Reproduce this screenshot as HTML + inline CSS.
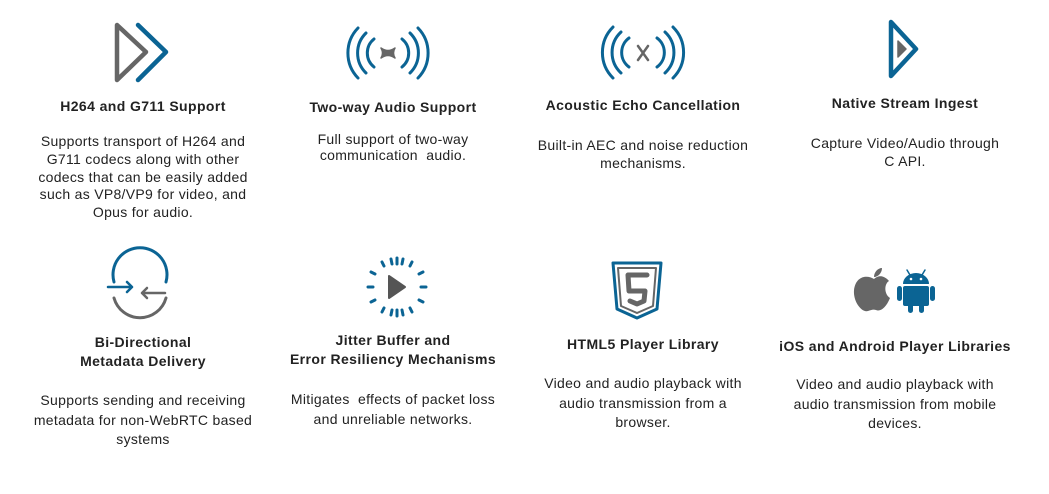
<!DOCTYPE html>
<html><head><meta charset="utf-8"><style>
body{margin:0;width:1049px;height:494px;background:#fff;position:relative;overflow:hidden;font-family:"Liberation Sans",sans-serif;color:#222}
.t{position:absolute;width:300px;text-align:center;font-weight:bold;font-size:14px;letter-spacing:0.4px;line-height:19px}
.b{position:absolute;width:300px;text-align:center;font-size:14px;letter-spacing:0.3px}
svg{position:absolute;left:0;top:0}
</style></head><body>
<svg width="1049" height="494" fill="none" stroke-linecap="round" stroke-linejoin="round">
<path d="M117 25 L117 80 L146 52 Z" stroke="#666" stroke-width="4.5"/>
<path d="M138 25 L166 52 L138 80" stroke="#0b6494" stroke-width="4.5"/>
<g stroke="#0b6494" stroke-width="3">
<path d="M358 28 A36 36 0 0 0 358 78"/><path d="M366 33 A28 28 0 0 0 366 73"/><path d="M374 39 A18 18 0 0 0 374 67"/>
<path d="M418 28 A36 36 0 0 1 418 78"/><path d="M410 33 A28 28 0 0 1 410 73"/><path d="M402 39 A18 18 0 0 1 402 67"/>
<path d="M613 27 A36 36 0 0 0 613 78"/><path d="M621 32 A28 28 0 0 0 621 73"/><path d="M629 38 A18 18 0 0 0 629 67"/>
<path d="M673 27 A36 36 0 0 1 673 78"/><path d="M665 32 A28 28 0 0 1 665 73"/><path d="M657 38 A18 18 0 0 1 657 67"/>
</g>
<path d="M381 48 Q388 53 395 48 Q392 53 395 58 Q388 53 381 58 Q384 53 381 48Z" fill="#666" stroke="#666" stroke-width="1.5"/>
<path d="M638 46 L648 60 M648 46 L638 60" stroke="#666" stroke-width="2.5"/>
<path d="M891 22 L891 76 L916 49 Z" stroke="#0b6494" stroke-width="4.5"/>
<path d="M898 41 L898 57 L906 49Z" fill="#666" stroke="#666" stroke-width="1.5"/>
<path d="M114 282 A27 27 0 1 1 166 282" stroke="#0b6494" stroke-width="3"/>
<path d="M114 298 A27 27 0 0 0 166 298" stroke="#666" stroke-width="3"/>
<path d="M108 287 L132 287 M127 282 L132 287 L127 292" stroke="#0b6494" stroke-width="2.5"/>
<path d="M142 293 L165 293 M147 288 L142 293 L147 298" stroke="#666" stroke-width="2.5"/>
<g stroke="#0b6494" stroke-width="3">
<path d="M397 258 L397 264 M397 310 L397 316 M368 287 L373 287 M421 287 L426 287"/>
<path d="M382 262 L384 266 M412 262 L410 266 M382 312 L384 308 M412 312 L410 308"/>
<path d="M371 272 L375 274 M423 272 L419 274 M371 302 L375 300 M423 302 L419 300"/>
<path d="M391 259 L392 264 M403 259 L402 264 M391 315 L392 310 M403 315 L402 310"/>
</g>
<path d="M389 276 L389 298 L405 287Z" fill="#555" stroke="#555" stroke-width="2"/>
<path d="M613 263 L661 263 L657 309 L637 318 L617 309 Z" stroke="#0b6494" stroke-width="3"/>
<path d="M618 268 L656 268 L653 306 L637 313 L621 306Z" stroke="#666" stroke-width="2"/>
<path d="M647 275 L628 275 L629 291 L645 291 L644 301 L637 304 L630 301" stroke="#666" stroke-width="5"/>
<path d="M874 279 C868 275 856 275 854 290 C853 302 862 313 868 311 C871 310 873 309 876 310 C880 312 886 308 890 298 C884 294 884 284 889 281 C883 274 877 276 874 279Z" fill="#666"/>
<path d="M874 277 C874 272 878 268 882 268 C882 273 878 277 874 277Z" fill="#666"/>
<g fill="#0b6494">
<path d="M903 284 A13 11 0 0 1 929 284 Z"/>
<rect x="903" y="286" width="26" height="20" rx="2"/>
<rect x="897" y="286" width="5" height="15" rx="2.5"/>
<rect x="930" y="286" width="5" height="15" rx="2.5"/>
<rect x="908" y="300" width="5" height="13" rx="2.5"/>
<rect x="919" y="300" width="5" height="13" rx="2.5"/>
</g>
<path d="M907 270 L910 275 M925 270 L922 275" stroke="#0b6494" stroke-width="1.5"/>
<circle cx="911" cy="279" r="1.3" fill="#fff"/><circle cx="921" cy="279" r="1.3" fill="#fff"/>
</svg>

<div class="t" style="left:-7px;top:97px">H264 and G711 Support</div>
<div class="b" style="left:-7px;top:133px;line-height:17.8px">Supports transport of H264 and<br>G711 codecs along with other<br>codecs that can be easily added<br>such as VP8/VP9 for video, and<br>Opus for audio.</div>
<div class="t" style="left:243px;top:98px">Two-way Audio Support</div>
<div class="b" style="left:243px;top:131px;line-height:16px">Full support of two-way<br>communication&nbsp; audio.</div>
<div class="t" style="left:493px;top:96px">Acoustic Echo Cancellation</div>
<div class="b" style="left:493px;top:136px;line-height:18px">Built-in AEC and noise reduction<br>mechanisms.</div>
<div class="t" style="left:755px;top:94px">Native Stream Ingest</div>
<div class="b" style="left:755px;top:134px;line-height:18px">Capture Video/Audio through<br>C API.</div>

<div class="t" style="left:-7px;top:333px">Bi-Directional<br>Metadata Delivery</div>
<div class="b" style="left:-7px;top:391px;line-height:19.5px">Supports sending and receiving<br>metadata for non-WebRTC based<br>systems</div>
<div class="t" style="left:243px;top:331px">Jitter Buffer and<br>Error Resiliency Mechanisms</div>
<div class="b" style="left:243px;top:389px;line-height:20px">Mitigates&nbsp; effects of packet loss<br>and unreliable networks.</div>
<div class="t" style="left:493px;top:335px">HTML5 Player Library</div>
<div class="b" style="left:493px;top:374px;line-height:19.5px">Video and audio playback with<br>audio transmission from a<br>browser.</div>
<div class="t" style="left:745px;top:337px">iOS and Android Player Libraries</div>
<div class="b" style="left:745px;top:375px;line-height:19.5px">Video and audio playback with<br>audio transmission from mobile<br>devices.</div>
</body></html>
